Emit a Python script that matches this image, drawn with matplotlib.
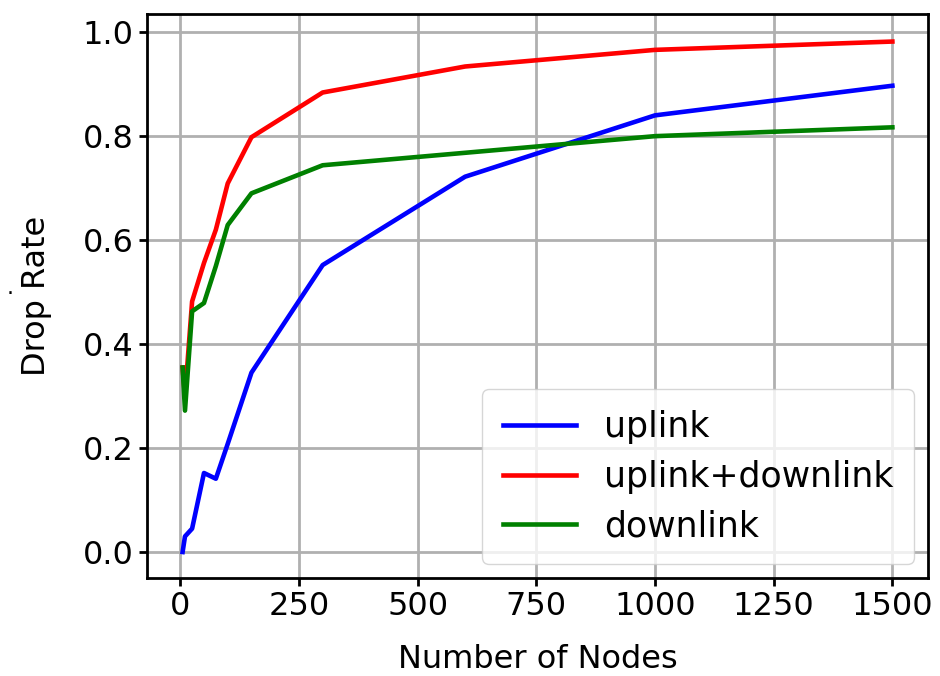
import numpy as np
import matplotlib.pyplot as plt

nodes = [5, 10, 25, 50, 75, 100, 150, 300, 600, 1000, 1500]
uplink = [0.0, 0.03, 0.045, 0.152, 0.141, 0.208, 0.345, 0.552, 0.722, 0.84, 0.897]
both = [0.355, 0.30, 0.482, 0.556, 0.62, 0.709, 0.798, 0.884, 0.934, 0.966, 0.982]
downlink = [0.355, 0.272, 0.463, 0.479, 0.55, 0.629, 0.69, 0.744, 0.768, 0.80, 0.817]

plt.rcParams['font.size'] = 23
fig = plt.figure(figsize=(9.4, 6.76), dpi=100)
ax = fig.add_axes([147 / 940, 1 - 578 / 676, (928 - 147) / 940, (578 - 14) / 676])
ax.plot(nodes, uplink, color='blue', lw=3.3, label='uplink')
ax.plot(nodes, both, color='red', lw=3.3, label='uplink+downlink')
ax.plot(nodes, downlink, color='green', lw=3.3, label='downlink')
ax.set_xlim(-70, 1575)
ax.set_ylim(-0.05, 1.035)
ax.set_xticks([0, 250, 500, 750, 1000, 1250, 1500])
ax.set_yticks([0.0, 0.2, 0.4, 0.6, 0.8, 1.0])
ax.grid(True, color='#b0b0b0', lw=2.0)
for s in ax.spines.values():
    s.set_linewidth(2.0)
ax.tick_params(width=2.0, length=6)
ax.set_xlabel('Number of Nodes', labelpad=16)
ax.set_ylabel('Drop Rate', labelpad=22)
fig.text(10 / 940, 1 - 288 / 676, '.', fontsize=16, ha='center', va='center')
ax.legend(loc='lower right', handlelength=2.1, fontsize=25, borderpad=0.6,
          borderaxespad=0.4, labelspacing=0.45)
fig.savefig('out.png')
